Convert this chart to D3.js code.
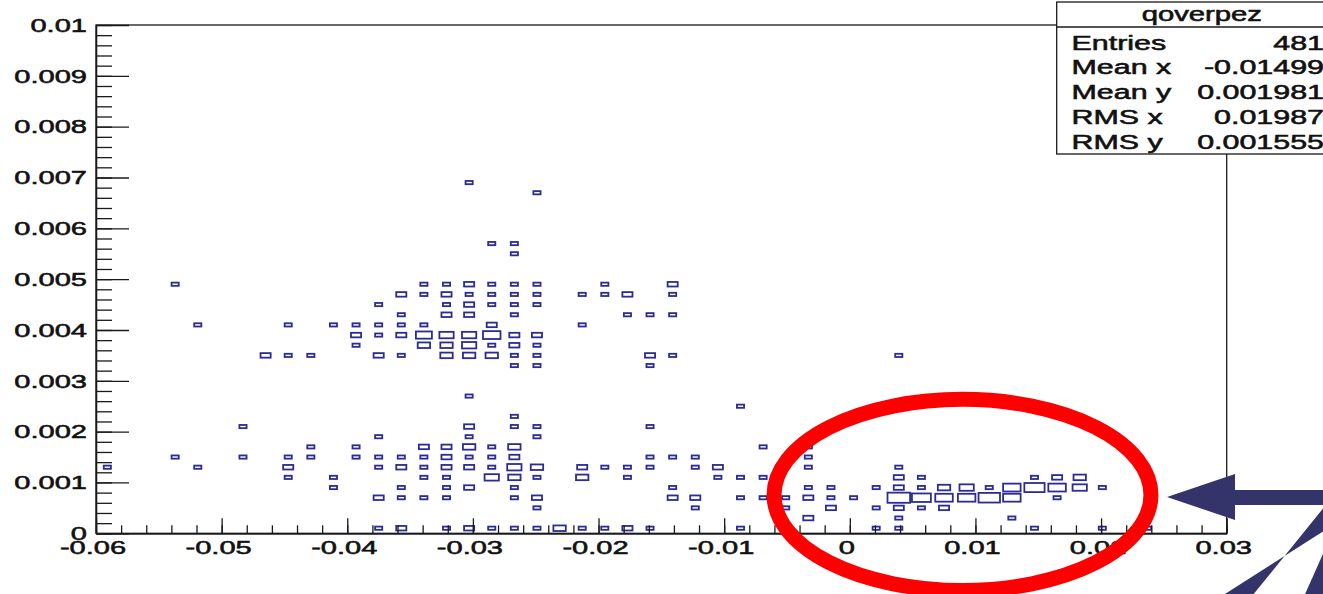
<!DOCTYPE html>
<html>
<head>
<meta charset="utf-8">
<script src="https://cdn.jsdelivr.net/npm/d3@7"></script>
<style>
  html, body { margin: 0; padding: 0; background: #fff; overflow: hidden; }
  svg { display: block; }
  text { font-family: "Liberation Sans", Arial, Helvetica, sans-serif; fill: #111; stroke: #111; stroke-width: 0.55px; }
</style>
</head>
<body>
<svg id="chart" width="1323" height="594"></svg>
<script>
// ---- Histogram definition: TH2 "qoverpez", 50 x 50 bins ----
const xRange = [-0.06, 0.03];
const yRange = [0, 0.01];
const nBinsX = 50;
const nBinsY = 50;

// Filled bins, grouped by y-bin row: x-bin indices and their counts
const yBins = [0, 1, 2, 3, 4, 5, 6, 7, 8, 9, 10, 11, 12, 13, 16, 17, 18, 19, 20, 21, 22, 23, 24, 27, 28, 33, 34];
const xBinsByRow = [
  [12, 13, 15, 16, 17, 18, 19, 20, 21, 22, 23, 24, 28, 34, 35, 41, 44, 46],
  [31, 35, 40],
  [19, 26, 30, 32, 34, 35, 36, 37],
  [12, 13, 14, 15, 18, 19, 25, 26, 28, 29, 30, 31, 32, 33, 35, 36, 37, 38, 39, 40, 42],
  [10, 13, 15, 16, 18, 25, 31, 32, 34, 35, 36, 37, 38, 39, 40, 41, 42, 43, 44],
  [8, 10, 14, 15, 17, 18, 19, 21, 23, 27, 28, 29, 35, 36, 41, 42, 43],
  [0, 4, 8, 12, 13, 14, 15, 16, 17, 18, 19, 21, 22, 23, 24, 26, 27, 31, 35],
  [3, 6, 8, 9, 11, 12, 13, 14, 15, 16, 17, 18, 24, 25, 26, 31],
  [9, 11, 14, 15, 16, 17, 18, 29, 31],
  [12, 16, 19],
  [6, 16, 18, 19, 24],
  [18],
  [28],
  [16],
  [18, 19, 24],
  [7, 8, 9, 12, 13, 15, 16, 17, 18, 19, 24, 25, 35],
  [11, 14, 15, 16, 17, 18, 19],
  [11, 12, 13, 14, 15, 16, 17, 18, 19],
  [4, 8, 10, 11, 12, 13, 14, 17, 21],
  [13, 15, 16, 18, 23, 24, 25],
  [12, 15, 16, 17, 18, 19],
  [13, 14, 15, 16, 17, 18, 19, 21, 22, 23, 25],
  [3, 14, 15, 16, 17, 18, 19, 22, 25],
  [18],
  [17, 18],
  [19],
  [16]
];
const countsByRow = [
  [1, 2, 1, 2, 1, 1, 1, 3, 1, 1, 2, 1, 1, 1, 1, 1, 1, 1],
  [2, 1, 1],
  [1, 1, 1, 2, 1, 2, 1, 2],
  [2, 1, 1, 1, 1, 2, 2, 2, 1, 1, 1, 2, 1, 1, 10, 7, 6, 6, 9, 6, 1],
  [1, 1, 1, 2, 1, 1, 1, 1, 1, 2, 1, 3, 4, 1, 6, 8, 6, 4, 1],
  [1, 1, 1, 1, 4, 3, 1, 3, 1, 1, 1, 1, 2, 1, 1, 2, 3],
  [1, 1, 2, 1, 2, 1, 2, 2, 1, 4, 3, 2, 1, 1, 1, 1, 2, 1, 1],
  [1, 1, 1, 1, 1, 1, 1, 1, 2, 1, 1, 2, 1, 1, 1, 1],
  [1, 1, 2, 2, 3, 1, 3, 1, 1],
  [1, 1, 1],
  [1, 2, 1, 1, 1],
  [1],
  [1],
  [1],
  [1, 1, 1],
  [2, 1, 1, 2, 1, 3, 3, 3, 1, 1, 2, 1, 1],
  [1, 3, 3, 4, 1, 2, 1],
  [2, 1, 2, 5, 4, 4, 6, 2, 2],
  [1, 1, 1, 1, 1, 1, 1, 2, 1],
  [1, 2, 2, 1, 1, 1, 1],
  [1, 1, 2, 1, 1, 1],
  [2, 1, 2, 1, 1, 1, 1, 1, 1, 2, 1],
  [1, 1, 1, 2, 1, 1, 1, 1, 2],
  [1],
  [1, 1],
  [1],
  [1]
];

// ---- Axis ticks and labels ----
const xTickValues = [-0.06, -0.05, -0.04, -0.03, -0.02, -0.01, 0, 0.01, 0.02, 0.03];
const xTickLabels = ["-0.06", "-0.05", "-0.04", "-0.03", "-0.02", "-0.01", "0", "0.01", "0.02", "0.03"];
const yTickValues = [0, 0.001, 0.002, 0.003, 0.004, 0.005, 0.006, 0.007, 0.008, 0.009, 0.01];
const yTickLabels = ["0", "0.001", "0.002", "0.003", "0.004", "0.005", "0.006", "0.007", "0.008", "0.009", "0.01"];

// ---- Statistics box ----
const statTitle = "qoverpez";
const statLabels = ["Entries", "Mean x", "Mean y", "RMS x", "RMS y"];
const statValues = ["481", "-0.01499", "0.001981", "0.01987", "0.001555"];

// ---- Layout ----
const frame = { left: 96, right: 1226.7, top: 25, bottom: 533.3 };
const textStretch = 1.53;     // glyphs are drawn wider than tall
const boxColor = "#2c2c92";
const axisColor = "#1a1a1a";

const svg = d3.select("#chart");
const x = d3.scaleLinear().domain(xRange).range([frame.left, frame.right]);
const y = d3.scaleLinear().domain(yRange).range([frame.bottom, frame.top]);

const binW = (xRange[1] - xRange[0]) / nBinsX;
const binH = (yRange[1] - yRange[0]) / nBinsY;

// Flatten the rows into a list of bins
const cells = [];
yBins.forEach((iy, r) => {
  xBinsByRow[r].forEach((ix, i) => cells.push({ ix, iy, n: countsByRow[r][i] }));
});
const nMax = d3.max(cells, d => d.n);

// BOX drawing: box side scales with sqrt(content / max content)
const cellPxW = x(xRange[0] + binW) - x(xRange[0]);
const cellPxH = y(yRange[0]) - y(yRange[0] + binH);
const frac = d => Math.sqrt(d.n / nMax);
const cx = d => x(xRange[0] + (d.ix + 0.5) * binW);
const cy = d => y(yRange[0] + (d.iy + 0.5) * binH);

svg.append("g").attr("class", "boxes")
  .selectAll("rect").data(cells).join("rect")
  .attr("x", d => cx(d) - frac(d) * cellPxW / 2)
  .attr("y", d => cy(d) - frac(d) * cellPxH / 2)
  .attr("width", d => frac(d) * cellPxW)
  .attr("height", d => frac(d) * cellPxH)
  .attr("fill", "none")
  .attr("stroke", boxColor)
  .attr("stroke-width", 1.8);

// ---- Frame ----
svg.append("rect")
  .attr("x", frame.left).attr("y", frame.top)
  .attr("width", frame.right - frame.left).attr("height", frame.bottom - frame.top)
  .attr("fill", "none").attr("stroke", axisColor).attr("stroke-width", 1.3);

// ---- Axes (ticks pointing into the frame) ----
const xMinor = d3.range(0, 46).map(i => xRange[0] + i * 0.002);
const yMinor = d3.range(0, 51).map(i => yRange[0] + i * 0.0002);

function styleAxis(g) {
  g.select(".domain").attr("stroke", axisColor).attr("stroke-width", 1.3);
  g.selectAll(".tick line").attr("stroke", axisColor).attr("stroke-width", 1.3);
  g.selectAll(".tick text").remove();
}

svg.append("g").attr("transform", `translate(0,${frame.bottom})`)
  .call(d3.axisBottom(x).tickValues(xMinor).tickSize(-8).tickSizeOuter(0).tickFormat(""))
  .call(styleAxis);
svg.append("g").attr("transform", `translate(0,${frame.bottom})`)
  .call(d3.axisBottom(x).tickValues(xTickValues).tickSize(-15).tickSizeOuter(0).tickFormat(""))
  .call(styleAxis);
svg.append("g").attr("transform", `translate(${frame.left},0)`)
  .call(d3.axisLeft(y).tickValues(yMinor).tickSize(-16).tickSizeOuter(0).tickFormat(""))
  .call(styleAxis);
svg.append("g").attr("transform", `translate(${frame.left},0)`)
  .call(d3.axisLeft(y).tickValues(yTickValues).tickSize(-33).tickSizeOuter(0).tickFormat(""))
  .call(styleAxis);

// Tick labels
svg.append("g").attr("class", "x-labels")
  .selectAll("text").data(xTickValues).join("text")
  .attr("transform", d => `translate(${x(d) - 3},553.5) scale(${textStretch},1)`)
  .attr("text-anchor", "middle")
  .style("font-size", "19px")
  .text((d, i) => xTickLabels[i]);

svg.append("g").attr("class", "y-labels")
  .selectAll("text").data(yTickValues).join("text")
  .attr("transform", d => `translate(87,${y(d) + 6.8}) scale(${textStretch},1)`)
  .attr("text-anchor", "end")
  .style("font-size", "19px")
  .text((d, i) => yTickLabels[i]);

// ---- Statistics box ----
const stats = { left: 1056.7, top: 2, right: 1347, bottom: 154, sep: 27 };
const sg = svg.append("g").attr("class", "stats");
sg.append("rect")
  .attr("x", stats.left).attr("y", stats.top)
  .attr("width", stats.right - stats.left).attr("height", stats.bottom - stats.top)
  .attr("fill", "#fff").attr("stroke", axisColor).attr("stroke-width", 1.3);
sg.append("line")
  .attr("x1", stats.left).attr("x2", stats.right)
  .attr("y1", stats.sep).attr("y2", stats.sep)
  .attr("stroke", axisColor).attr("stroke-width", 1.3);
sg.append("text")
  .attr("transform", `translate(${(stats.left + stats.right) / 2},20.5) scale(1.5,1)`)
  .attr("text-anchor", "middle")
  .style("font-size", "19.5px")
  .text(statTitle);
const rowBase = d3.scaleLinear().domain([0, statLabels.length - 1]).range([49.5, 148.5]);
sg.selectAll("text.lab").data(statLabels).join("text").attr("class", "lab")
  .attr("transform", (d, i) => `translate(1071.5,${rowBase(i)}) scale(1.56,1)`)
  .style("font-size", "19.5px")
  .text(d => d);
sg.selectAll("text.val").data(statValues).join("text").attr("class", "val")
  .attr("transform", (d, i) => `translate(1324,${rowBase(i)}) scale(1.56,1)`)
  .attr("text-anchor", "end")
  .style("font-size", "19.5px")
  .text(d => d);

// ---- Highlight: red ellipse around the positive-x band ----
const hl = { cx: 0.00897, cy: 0.000755, rx: 0.0150, ry: 0.00188 };
svg.append("ellipse")
  .attr("cx", x(hl.cx)).attr("cy", y(hl.cy))
  .attr("rx", x(hl.cx + hl.rx) - x(hl.cx))
  .attr("ry", y(hl.cy) - y(hl.cy + hl.ry))
  .attr("fill", "none")
  .attr("stroke", "#fe0000")
  .attr("stroke-width", 15);

// ---- Pointer arrows on the right margin ----
const navy = "#34346a";
const arrowShapes = [
  // left-pointing arrow
  [[1167, 497], [1235, 474], [1235, 490], [1330, 490], [1330, 505], [1235, 505], [1235, 520]],
  // diagonal bars
  [[1330, 500], [1330, 527], [1214, 601], [1248, 601]],
  [[1330, 538], [1330, 601], [1302, 601]]
];
svg.append("g").attr("class", "arrows")
  .selectAll("polygon").data(arrowShapes).join("polygon")
  .attr("points", d => d.map(p => p.join(",")).join(" "))
  .attr("fill", navy);
</script>
</body>
</html>
